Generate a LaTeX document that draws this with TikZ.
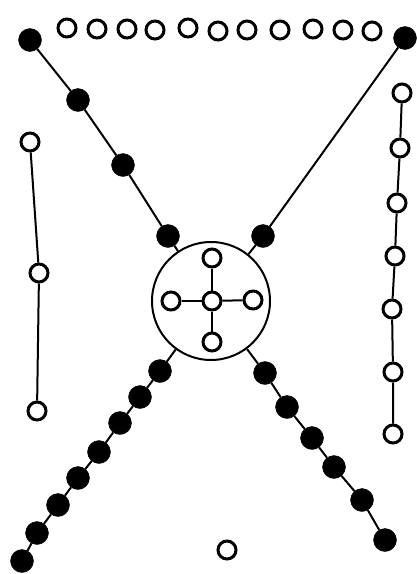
\documentclass[tikz,border=0pt]{standalone}
\usepackage{tikz}

\begin{document}
\begin{tikzpicture}[
  x=1pt, y=-1pt,
  whitev/.style={draw, circle, line width=3pt, minimum size=18pt, inner sep=0pt, fill=white},
  blackv/.style={draw, circle, fill=black, minimum size=23pt, inner sep=0pt},
  ring/.style={draw, circle, line width=2pt, minimum size=118pt, inner sep=0pt},
  edge/.style={line width=2pt}
]
\useasboundingbox (0,0) rectangle (416,574);
% top row
\node[whitev] (t1) at (67,28) {};
\node[whitev] (t2) at (97,29) {};
\node[whitev] (t3) at (127,29) {};
\node[whitev] (t4) at (155,30) {};
\node[whitev] (t5) at (188,28) {};
\node[whitev] (t6) at (218,31) {};
\node[whitev] (t7) at (247,30) {};
\node[whitev] (t8) at (280,30) {};
\node[whitev] (t9) at (313,29) {};
\node[whitev] (t10) at (343,30) {};
\node[whitev] (t11) at (372,31) {};
% the ring and its cross
\node[ring] (hub) at (211,301) {};
\node[whitev] (c0) at (212,301) {};
\node[whitev] (cn) at (212,258) {};
\node[whitev] (cw) at (171,301) {};
\node[whitev] (ce) at (253,300) {};
\node[whitev] (cs) at (212,342) {};
\draw[edge] (c0) -- (cn);
\draw[edge] (c0) -- (cw);
\draw[edge] (c0) -- (ce);
\draw[edge] (c0) -- (cs);
% upper left arm
\node[blackv] (ul1) at (30,40) {};
\node[blackv] (ul2) at (78,100) {};
\node[blackv] (ul3) at (123,165) {};
\node[blackv] (ul4) at (168,236) {};
\draw[edge] (ul1) -- (ul2) -- (ul3) -- (ul4) -- (hub);
% upper right arm
\node[blackv] (ur1) at (405,38) {};
\node[blackv] (ur2) at (263,236) {};
\draw[edge] (ur1) -- (ur2) -- (hub);
% lower left arm
\node[blackv] (ll1) at (160,371) {};
\node[blackv] (ll2) at (140,397) {};
\node[blackv] (ll3) at (120,423) {};
\node[blackv] (ll4) at (99,452) {};
\node[blackv] (ll5) at (78,478) {};
\node[blackv] (ll6) at (58,505) {};
\node[blackv] (ll7) at (37,533) {};
\node[blackv] (ll8) at (22,561) {};
\draw[edge] (hub) -- (ll1) -- (ll2) -- (ll3) -- (ll4) -- (ll5) -- (ll6) -- (ll7) -- (ll8);
% lower right arm
\node[blackv] (lr1) at (265,373) {};
\node[blackv] (lr2) at (287,407) {};
\node[blackv] (lr3) at (312,438) {};
\node[blackv] (lr4) at (334,467) {};
\node[blackv] (lr5) at (362,500) {};
\node[blackv] (lr6) at (385,540) {};
\draw[edge] (hub) -- (lr1) -- (lr2) -- (lr3) -- (lr4) -- (lr5) -- (lr6);
% left column
\node[whitev] (a1) at (30,142) {};
\node[whitev] (a2) at (39,273) {};
\node[whitev] (a3) at (37,411) {};
\draw[edge] (a1) -- (a2) -- (a3);
% right column
\node[whitev] (b1) at (402,93) {};
\node[whitev] (b2) at (400,148) {};
\node[whitev] (b3) at (397,203) {};
\node[whitev] (b4) at (395,256) {};
\node[whitev] (b5) at (392,309) {};
\node[whitev] (b6) at (393,372) {};
\node[whitev] (b7) at (393,434) {};
\draw[edge] (b1) -- (b2) -- (b3) -- (b4) -- (b5) -- (b6) -- (b7);
% lone vertex
\node[whitev] (z) at (227,550) {};
\end{tikzpicture}
\end{document}
